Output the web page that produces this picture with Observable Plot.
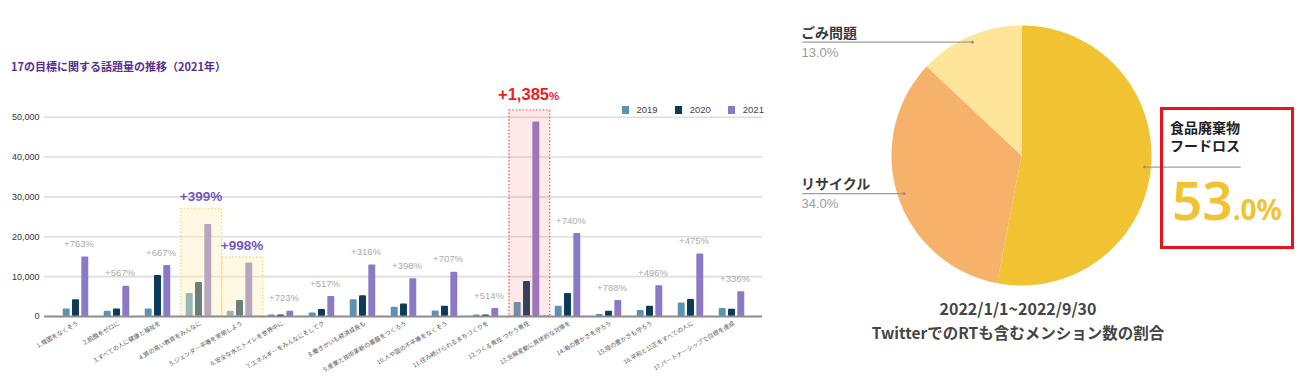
<!DOCTYPE html>
<html><head><meta charset="utf-8">
<script src="https://cdn.jsdelivr.net/npm/d3@7"></script>
<script src="https://cdn.jsdelivr.net/npm/@observablehq/plot@0.6"></script>
<style>
html,body{margin:0;padding:0;background:#fff;}
#root{position:relative;width:1300px;height:390px;overflow:hidden;font-family:"Noto Sans CJK JP","Noto Sans",sans-serif;}
.abs{position:absolute;white-space:nowrap;}
#root svg{position:absolute;}
</style></head><body><div id="root"></div>
<script>
// ---------- data: bar chart ----------
const categories = [
  "1.貧困をなくそう","2.飢餓をゼロに","3.すべての人に健康と福祉を","4.質の高い教育をみんなに",
  "5.ジェンダー平等を実現しよう","6.安全な水とトイレを世界中に","7.エネルギーをみんなにそしてク",
  "8.働きがいも経済成長も","9.産業と技術革新の基盤をつくろう","10.人や国の不平等をなくそう",
  "11.住み続けられるまちづくりを","12.つくる責任 つかう責任","13.気候変動に具体的な対策を",
  "14.海の豊かさを守ろう","15.陸の豊かさも守ろう","16.平和と公正をすべての人に","17.パートナーシップで目標を達成"
];
const years = ["2019","2020","2021"];
const v2019 = [1900,1300,1900,5800,1300,400,900,4200,2300,1400,350,3500,2600,500,1500,3400,2000];
const v2020 = [4200,1900,10300,8500,4000,400,1750,5200,3150,2600,400,8800,5800,1300,2600,4250,1800];
const v2021 = [14900,7600,12800,23100,13400,1300,5000,12900,9500,11100,2000,48800,20800,4000,7700,15700,6200];
const growth = ["+763%","+567%","+667%","+399%","+998%","+723%","+517%","+316%","+398%","+707%","+514%","+1,385%","+740%","+788%","+496%","+475%","+336%"];
const yTicks = [0,10000,20000,30000,40000,50000];
const highlightIdx = [3,4,11];
const highlightTop = [27000,14800,51700];
const highlightKind = ["yellow","yellow","red"];
const yearColors = ["#5a93b3","#0c3a59","#8c79c6"];
const chartTitle = "17の目標に関する話題量の推移（2021年）";

// ---------- data: pie ----------
const pieNames = ["食品廃棄物","リサイクル","ごみ問題"];
const pieShares = [53,34,13];
const pieColors = ["#f1c232","#f6b26b","#ffe599"];
const captionLines = ["2022/1/1~2022/9/30","TwitterでのRTも含むメンション数の割合"];

const root = document.getElementById("root");
const series = [v2019,v2020,v2021];

// ---------- bar chart ----------
const W = 780, H = 390, ML = 44, MR = 18, MT = 116.7, MB = 74;
const padOuter = 0.16;
const bw = (W - ML - MR) / (categories.length + 2 * padOuter);
const half = bw / 2, barHalf = 3.7, barOff = 9.3;
const rows = categories.flatMap((c,i)=>years.map((yr,j)=>({cat:c, year:yr, j, value:series[j][i]})));
const groups = categories.map((c,i)=>({cat:c, i, max:Math.max(v2019[i],v2020[i],v2021[i]), growth:growth[i]}));
const boxes = highlightIdx.map((i,k)=>({cat:categories[i], top:highlightTop[k], kind:highlightKind[k], growth:growth[i]}));
const yellowBoxes = boxes.filter(b=>b.kind==="yellow");
const redBoxes = boxes.filter(b=>b.kind==="red");
const CJK = "Noto Sans CJK JP";

const barMarks = years.map((yr,j)=>{
  const o = (j-1)*barOff;
  return Plot.barY(rows.filter(r=>r.j===j), {
    x:"cat", y:"value", fill: yearColors[j], rx: 1,
    insetLeft: half + o - barHalf, insetRight: half - o - barHalf
  });
});

const bar = Plot.plot({
  width: W, height: H, marginLeft: ML, marginRight: MR, marginTop: MT, marginBottom: MB,
  style: {background:"transparent", fontFamily:"Liberation Sans, Arial, sans-serif", fontSize:"9px", color:"#333"},
  x: {type:"band", domain: categories, paddingInner: 0, paddingOuter: padOuter, axis: null},
  y: {domain:[0,50000], ticks: yTicks, tickFormat: d3.format(","), tickSize: 0, tickPadding: 5, label: null},
  marks: [
    Plot.ruleY(yTicks.filter(t=>t>0), {stroke:"#dddddd", strokeWidth:1.6}),
    ...barMarks,
    Plot.barY(yellowBoxes, {x:"cat", y1:0, y2:"top", fill:"rgba(255,238,185,0.38)", stroke:"#f5d77a", strokeWidth:1.4, strokeDasharray:"1.4,2", insetLeft: half-17.8, insetRight: half-23.4}),
    Plot.barY(redBoxes, {x:"cat", y1:0, y2:"top", fill:"rgba(250,110,110,0.16)", stroke:"#f25a5a", strokeWidth:1.4, strokeDasharray:"1.4,2", insetLeft: half-17.8, insetRight: half-23.4}),
    Plot.ruleY([0], {stroke:"#8c8c8c", strokeWidth:2}),
    Plot.text(groups.filter(g=>!highlightIdx.includes(g.i)), {x:"cat", y:"max", text:"growth", dy:-13, dx:3, fill:"#ababab", fontSize:9.5}),
    Plot.text(yellowBoxes, {x:"cat", y:"top", text:"growth", dy:-12, dx:2, fill:"#7556c2", fontSize:13.5, fontWeight:"bold"}),
    Plot.text(redBoxes, {x:"cat", y:"top", text:d=>d.growth.slice(0,-1), dy:-10.5, dx:22, textAnchor:"end", lineAnchor:"bottom", fill:"#f01c1c", fontSize:16.5, fontWeight:"bold"}),
    Plot.text(redBoxes, {x:"cat", y:"top", text:d=>d.growth.slice(-1), dy:-10.5, dx:22, textAnchor:"start", lineAnchor:"bottom", fill:"#f01c1c", fontSize:11.5, fontWeight:"bold"}),
    Plot.text(categories, {x:d=>d, frameAnchor:"bottom", text:d=>d, rotate:-30, textAnchor:"end", dy:8, dx:3, fontSize:6, fill:"#555", fontFamily:CJK})
  ]
});
bar.style.left = "0px"; bar.style.top = "0px";
root.appendChild(bar);

// title
const t = document.createElement("div");
t.className = "abs";
t.textContent = chartTitle;
Object.assign(t.style, {left:"11px", top:"58px", fontSize:"11px", lineHeight:"16px", fontWeight:"bold", color:"#5b2d90", fontFamily:CJK});
root.appendChild(t);

// legend
const lg = document.createElement("div");
lg.className = "abs";
Object.assign(lg.style, {left:"621.5px", top:"104px", display:"flex", alignItems:"center", fontFamily:"Liberation Sans, Arial, sans-serif", fontSize:"9.5px", color:"#444", lineHeight:"12px"});
years.forEach((yr,j)=>{
  const sw = document.createElement("span");
  Object.assign(sw.style, {display:"inline-block", width:"7px", height:"8px", background:yearColors[j], marginRight:"8px"});
  const tx = document.createElement("span");
  tx.textContent = yr;
  Object.assign(tx.style, {marginRight: j<2 ? "17px" : "0"});
  lg.appendChild(sw); lg.appendChild(tx);
});
root.appendChild(lg);

// ---------- pie ----------
const PW = 520, PH = 300, PR = 130, PCX = 241, PCY = 155;
const pieRows = pieNames.map((n,i)=>({name:n, share:pieShares[i]}));
const arcs = d3.pie().sort(null).value(d=>d.share)(pieRows);
const piePts = arcs.flatMap(a=>{
  const n = Math.max(2, Math.ceil((a.endAngle - a.startAngle) / (Math.PI/360)));
  const pts = [{name:a.data.name, x:0, y:0}];
  for (let k=0;k<=n;k++){
    const ang = a.startAngle + (a.endAngle - a.startAngle)*k/n;
    pts.push({name:a.data.name, x:Math.sin(ang), y:Math.cos(ang)});
  }
  pts.push({name:a.data.name, x:0, y:0});
  return pts;
});
const labelX = 1.686;
const leaders = arcs.map(a=>{
  const m = (a.startAngle + a.endAngle)/2;
  const x2 = 0.95*Math.sin(m), y2 = 0.95*Math.cos(m);
  return {name:a.data.name, x1: x2 > 0 ? labelX : -labelX, y1: y2, x2, y2, share:a.data.share};
});
const pie = Plot.plot({
  width: PW, height: PH, margin: 0,
  style: {background:"transparent"},
  x: {domain:[-PCX/PR, (PW-PCX)/PR], axis:null},
  y: {domain:[-(PH-PCY)/PR, PCY/PR], axis:null},
  color: {domain: pieNames, range: pieColors},
  marks: [
    Plot.line(piePts, {x:"x", y:"y", z:"name", fill:"name", stroke:"none"}),
    Plot.link(leaders, {x1:"x1", y1:"y1", x2:"x2", y2:"y2", stroke:"#9c9c9c", strokeWidth:1.2}),
    Plot.dot(leaders, {x:"x2", y:"y2", r:1.3, fill:"#8a8a8a"})
  ]
});
pie.style.left = "780px"; pie.style.top = "0px";
root.appendChild(pie);

function addText(txt, css){
  const d = document.createElement("div");
  d.className = "abs";
  d.textContent = txt;
  Object.assign(d.style, css);
  root.appendChild(d);
  return d;
}
// pie labels (left side)
const fmtPct = s => s.toFixed(1) + "%";
const leftLabels = leaders.filter(l=>l.x1<0);
leftLabels.forEach(l=>{
  const yPix = PCY - l.y1*PR;
  addText(l.name, {left:"801px", top:(yPix-19)+"px", fontSize:"14px", lineHeight:"18px", fontWeight:"bold", color:"#3a3a3a", fontFamily:CJK});
  addText(fmtPct(l.share), {left:"801.5px", top:(yPix+3)+"px", fontSize:"13px", lineHeight:"16px", color:"#9d9d9d", fontFamily:"Liberation Sans, Arial, sans-serif"});
});
// highlighted label box (food loss)
const box = document.createElement("div");
box.className = "abs";
Object.assign(box.style, {left:"1160px", top:"107px", width:"128px", height:"136px", border:"3px solid #e8141c", background:"transparent"});
root.appendChild(box);
addText(pieNames[0], {left:"1170px", top:"118px", fontSize:"14px", lineHeight:"18px", fontWeight:"bold", color:"#222", fontFamily:CJK});
addText("フードロス", {left:"1170px", top:"136px", fontSize:"14px", lineHeight:"18px", fontWeight:"bold", color:"#222", fontFamily:CJK});
const big = document.createElement("div");
big.className = "abs";
Object.assign(big.style, {left:"1172px", top:"170px", color:"#f1c232", fontFamily:"Noto Sans, sans-serif", fontWeight:"600", lineHeight:"60px"});
const s1 = document.createElement("span"); s1.textContent = String(Math.floor(pieShares[0])); s1.style.fontSize = "53px";
const s2 = document.createElement("span"); s2.textContent = fmtPct(pieShares[0]).slice(String(Math.floor(pieShares[0])).length); s2.style.fontSize = "28px"; s2.style.fontWeight = "700";
big.appendChild(s1); big.appendChild(s2);
root.appendChild(big);

// caption
captionLines.forEach((line,k)=>{
  addText(line, {left:"1018px", top:(k===0?297:321)+"px", transform:"translateX(-50%)", fontSize:k===0?"16px":"15.5px", lineHeight:"22px", fontWeight:"bold", color:"#454545", fontFamily:CJK});
});
</script>
</body></html>
